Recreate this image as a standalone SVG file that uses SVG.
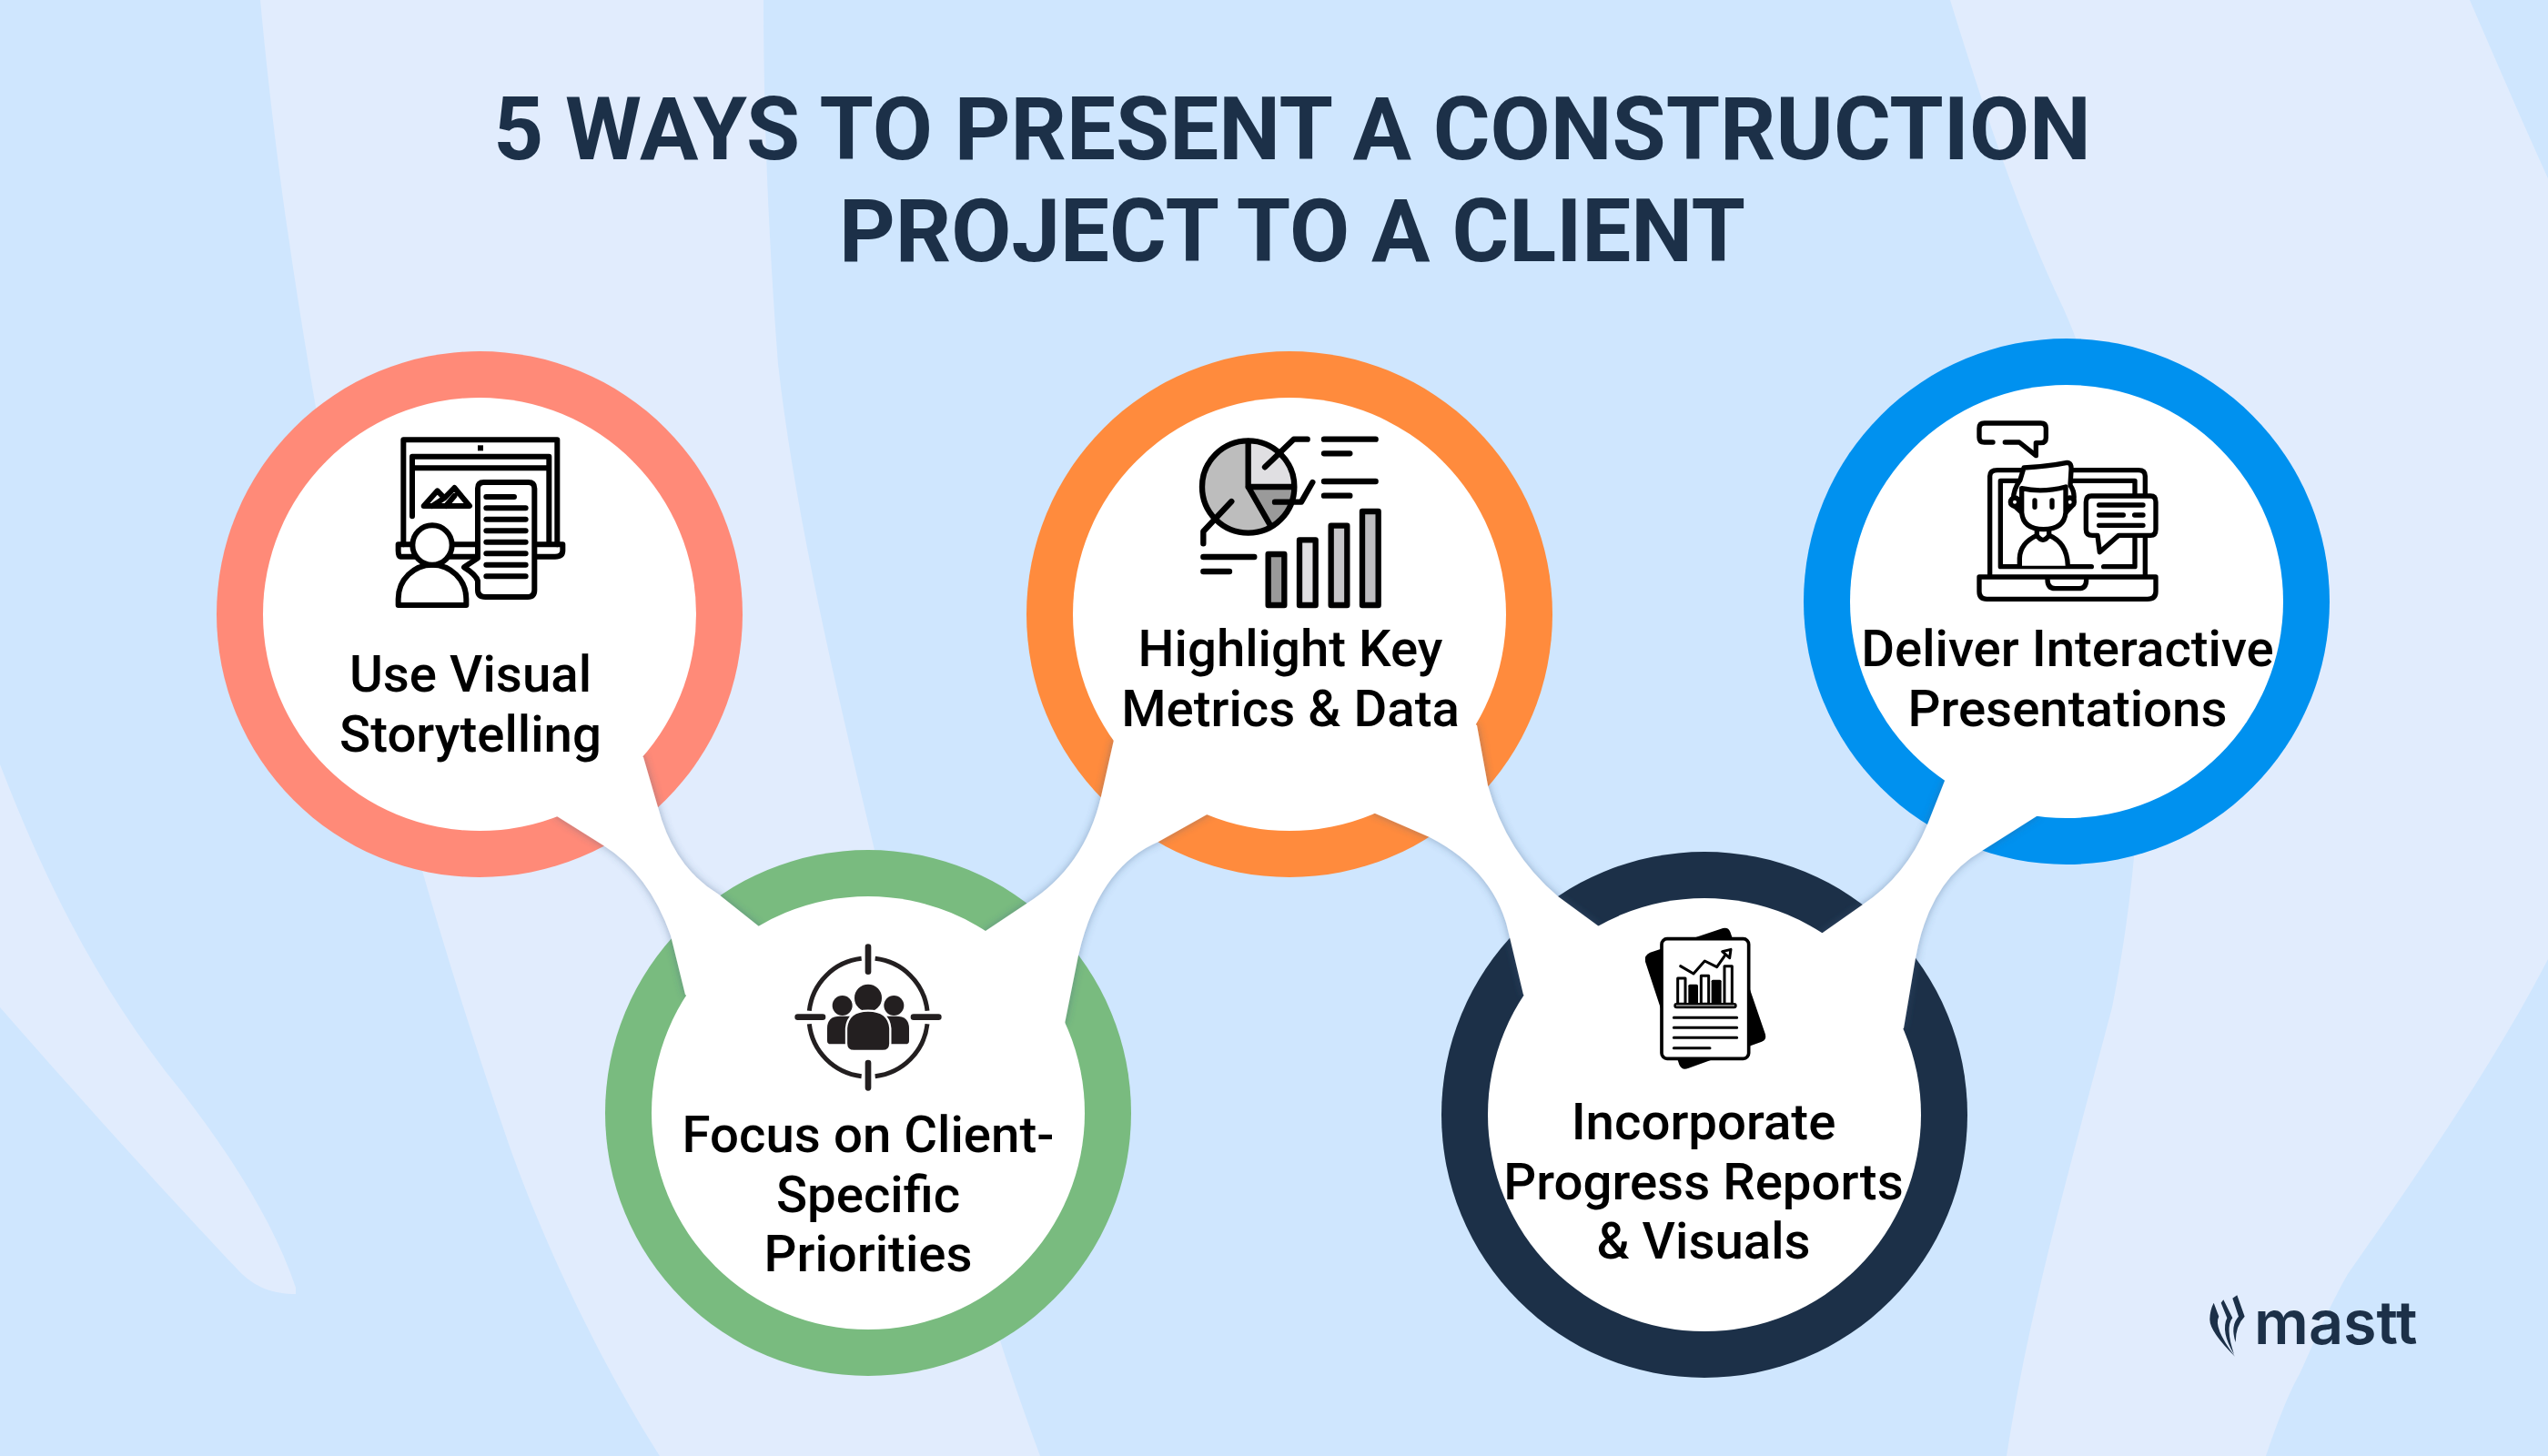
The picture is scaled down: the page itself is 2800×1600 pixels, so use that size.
<svg xmlns="http://www.w3.org/2000/svg" width="2800" height="1600" viewBox="0 0 2800 1600">
<defs>
<style>
.title{font:700 96px Roboto,"Liberation Sans",sans-serif;fill:#1c3048;text-anchor:middle}
.lab{font:500 56.4px Roboto,"Liberation Sans",sans-serif;fill:#000;text-anchor:middle}
.disc{fill:#fff}
.s{fill:none;stroke:#000;stroke-linecap:round;stroke-linejoin:round}
.w{fill:#fff;stroke:#000;stroke-linejoin:round;stroke-linecap:round}
.k{fill:#231f20}
</style>
<filter id="sh" x="-20%" y="-20%" width="140%" height="140%"><feDropShadow dx="0" dy="0" stdDeviation="5" flood-color="#3b5a80" flood-opacity="0.45"/></filter>
</defs>
<g id="background">
<rect width="2800" height="1600" fill="#cfe6fe"/>
<g fill="#e1ecfd">
<path d="M286,0 C300,150 320,300 360,520 C400,740 470,1000 560,1260 C610,1400 680,1530 725,1600 L1143,1600 C1080,1430 1040,1280 1000,1100 C950,880 880,620 855,400 C845,270 839,130 839,0Z"/>
<path d="M0,840 C50,970 110,1090 200,1200 C250,1265 300,1340 325,1415 L325,1422 C300,1422 280,1415 262,1396 C190,1320 90,1210 0,1107Z"/>
<path d="M2143,0 C2180,120 2220,240 2268,340 C2330,480 2390,760 2321,1107 C2270,1300 2230,1440 2205,1600 L2490,1600 C2500,1570 2515,1530 2527,1510 C2545,1470 2560,1435 2580,1400 C2650,1300 2740,1170 2800,1054 L2800,196 C2770,130 2740,60 2714,0Z"/>
</g>
</g>
<g id="title">
<text class="title" x="1420" y="175">5 WAYS TO PRESENT A CONSTRUCTION</text>
<text class="title" x="1420" y="287">PROJECT TO A CLIENT</text>
</g>
<g id="rings">
<circle cx="527" cy="675" r="289" fill="#ff8a78"/>
<circle cx="954" cy="1223" r="289" fill="#79bb7f"/>
<circle cx="1417" cy="675" r="289" fill="#ff8b3d"/>
<circle cx="1873" cy="1225" r="289" fill="#1c3048"/>
<circle cx="2271" cy="661" r="289" fill="#0091ef"/>
</g>
<g id="connectors" fill="#fff" filter="url(#sh)">
<path d="M707,832 L723,887 Q740,953 790,983 L834,1018 L954,1223 L753,1093 L737,1028 Q713,960 663,929 L612,897 L527,675Z"/>
<path d="M1224,813 L1210,875 Q1192,953 1128,993 L1083,1023 L954,1223 L1170,1125 L1185,1050 Q1207,953 1273,925 L1330,893 L1417,675Z"/>
<path d="M1623,797 L1635,863 Q1655,937 1712,985 L1757,1018 L1873,1225 L1674,1093 L1659,1030 Q1645,958 1571,920 L1509,893 L1417,675Z"/>
<path d="M2137,858 L2118,906 Q2095,962 2047,994 L2000,1027 L1873,1225 L2092,1130 L2105,1053 Q2120,968 2178,935 L2238,897 L2271,661Z"/>
</g>
<g id="node-visual-storytelling">
<circle class="disc" cx="527" cy="675" r="238"/>
<g transform="translate(400,450) scale(0.33333)" stroke-width="18">
<path class="s" stroke-linecap="butt" d="M130,445 V100 H637 V445"/>
<path class="s" stroke-linecap="butt" d="M159,352 V155 H610 V440 M160,193 H610"/>
<rect x="375" y="118" width="18" height="18"/>
<path class="s" d="M113,445 H655 V465 Q655,485 630,485 H120 Q113,485 113,465Z"/>
<path class="s" d="M197,318 L242,268 L265,292 L298,258 L348,318Z M225,318 L265,292 M270,318 L298,285"/>
<path class="w" d="M375,260 Q375,240 395,240 H542 Q562,240 562,260 V595 Q562,618 540,618 H400 Q375,618 375,595 V565 Q370,545 330,520 L375,490Z"/>
<path class="s" stroke-linecap="butt" d="M403,288 H495 M403,325 H533 M403,362 H533 M403,400 H533 M403,437 H533 M403,475 H533 M403,512 H533 M403,550 H533"/>
<path class="w" d="M113,645 V625 C113,560 165,512 225,512 C285,512 337,560 337,625 V645Z"/>
<circle class="w" cx="225" cy="447" r="65"/>
</g>
<text class="lab" x="517" y="760">Use Visual</text>
<text class="lab" x="517" y="826">Storytelling</text>
</g>
<g id="node-client-priorities">
<circle class="disc" cx="954" cy="1223" r="238"/>
<g transform="translate(840,1020) scale(0.33333)">
<path class="s" stroke-width="15" style="stroke:#231f20;stroke-linecap:butt" d="M365,100 A195,195 0 0 1 537,272 M537,316 A195,195 0 0 1 365,488 M320,488 A195,195 0 0 1 148,316 M148,272 A195,195 0 0 1 320,100"/>
<path class="s" style="stroke:#231f20" stroke-width="20" d="M342,62 V143 M342,444 V526 M110,293 H192 M492,293 H574"/>
<circle class="k" cx="257" cy="255" r="33"/><circle class="k" cx="427" cy="255" r="33"/>
<path class="k" d="M207,330 Q207,290 250,290 H434 Q477,290 477,330 V372 Q477,382 465,382 H219 Q207,382 207,372Z"/>
<circle class="k" cx="342" cy="230" r="45"/>
<path class="k" stroke="#fff" stroke-width="7" d="M270,330 Q275,272 342,272 Q410,272 415,330 V380 Q415,405 390,405 H295 Q270,405 270,380Z"/>
</g>
<text class="lab" x="954" y="1266">Focus on Client-</text>
<text class="lab" x="954" y="1332">Specific</text>
<text class="lab" x="954" y="1397">Priorities</text>
</g>
<g id="node-key-metrics">
<circle class="disc" cx="1417" cy="675" r="238"/>
<g transform="translate(1290,460) scale(0.33333)" stroke-width="19">
<circle cx="245" cy="225" r="152" fill="#bdbdbd"/>
<path fill="#e0dfe2" d="M245,225 V73 A152,152 0 0 1 397,225Z"/>
<path fill="#9a9a9a" d="M245,225 H397 A152,152 0 0 1 318,358Z"/>
<circle class="s" cx="245" cy="225" r="152"/>
<path class="s" d="M245,75 V225 H395 M245,225 L318,352 M300,160 L395,68 H440 M190,273 L97,372 V412 M333,275 H420 L457,210 M495,68 H665 M495,115 H580 M495,207 H665 M495,254 H580 M97,456 H265 M97,504 H183"/>
<rect class="w" x="311" y="447" width="53" height="168" style="fill:#999"/>
<rect class="w" x="414" y="400" width="53" height="215" style="fill:#dfdee1"/>
<rect class="w" x="518" y="353" width="53" height="262" style="fill:#c6c5c8"/>
<rect class="w" x="621" y="306" width="53" height="309" style="fill:#bdbcbf"/>
</g>
<text class="lab" x="1418" y="732">Highlight Key</text>
<text class="lab" x="1418" y="798">Metrics &amp; Data</text>
</g>
<g id="node-progress-reports">
<circle class="disc" cx="1873" cy="1225" r="238"/>
<g transform="translate(1780,1000) scale(0.33333)">
<path d="M100,140 L340,60 Q358,56 364,72 L480,410 Q484,428 468,434 L225,522 Q205,530 196,510 L84,170 Q80,148 100,140Z"/>
<rect class="w" x="138" y="95" width="287" height="395" rx="18" stroke-width="11"/>
<path class="s" stroke-width="9" d="M200,185 L243,210 L280,168 L320,188 L350,145"/>
<path class="w" stroke-width="9" d="M338,137 L366,130 L362,158Z"/>
<rect class="w" x="191" y="225" width="25" height="85" stroke-width="9"/>
<rect x="226" y="245" width="32" height="65" rx="5"/>
<rect class="w" x="268" y="217" width="25" height="93" stroke-width="9"/>
<rect x="302" y="230" width="33" height="80" rx="5"/>
<rect class="w" x="345" y="185" width="25" height="125" stroke-width="9"/>
<rect x="178" y="306" width="208" height="19" rx="9"/>
<rect x="186" y="312" width="192" height="6" fill="#777"/>
<path class="s" stroke-width="9" d="M178,355 H386 M178,388 H386 M178,421 H386 M178,455 H297"/>
</g>
<text class="lab" x="1872" y="1252">Incorporate</text>
<text class="lab" x="1872" y="1318">Progress Reports</text>
<text class="lab" x="1872" y="1383">&amp; Visuals</text>
</g>
<g id="node-interactive-presentations">
<circle class="disc" cx="2271" cy="661" r="238"/>
<g transform="translate(2140,440) scale(0.33333)" stroke-width="16">
<path class="s" d="M150,138 H122 Q105,138 105,122 V92 Q105,75 122,75 H308 Q325,75 325,92 V122 Q325,140 308,140 H292 V182 L237,138 H190"/>
<path class="s" d="M140,575 V250 Q140,230 165,230 H630 Q652,230 652,250 V310 M652,450 V575"/>
<path class="s" d="M475,548 H175 V265 H618 V315 M618,450 V548 H515"/>
<path class="s" d="M105,582 H687 V630 Q687,655 660,655 H130 Q105,655 105,630Z M330,590 Q330,620 355,620 H435 Q458,620 458,590"/>
<path class="w" d="M238,545 V520 Q240,470 295,445 Q315,475 335,445 Q395,470 397,545"/>
<path class="w" d="M218,345 Q212,300 240,262 L252,222 Q330,218 395,205 Q410,205 408,230 L405,280 Q424,305 414,345 L390,370 H245Z"/>
<circle class="w" cx="222" cy="335" r="14"/>
<circle class="w" cx="404" cy="335" r="14"/>
<path class="w" d="M245,290 Q315,305 390,285 V370 Q385,425 317,425 Q250,425 245,370Z"/>
<path class="s" d="M288,330 V352 M345,330 V352 M295,425 V448 M335,425 V448"/>
<path class="w" d="M475,315 H670 Q687,315 687,335 V425 Q687,445 670,445 H565 L502,500 L495,445 H478 Q457,445 457,425 V335 Q457,315 475,315Z"/>
<path class="s" d="M500,345 H645 M500,378 H580 M617,378 H645 M500,412 H645"/>
</g>
<text class="lab" x="2272" y="732">Deliver Interactive</text>
<text class="lab" x="2272" y="798">Presentations</text>
</g>
<g id="logo">
<g transform="translate(2410,1400) scale(0.33333)" fill="#1c3048">
<path d="M145,70 L170,140 Q140,170 140,225 Q122,170 150,140 L130,80Z"/>
<path d="M100,85 L130,145 Q105,175 135,265 Q90,190 112,145 L92,95Z"/>
<path d="M68,95 L85,140 Q65,175 138,272 Q55,190 55,150 Q55,120 68,95Z"/>
</g>
<text x="2477" y="1477" style="font:600 66.5px Inter,'Liberation Sans',sans-serif;fill:#1c3048">mastt</text>
</g>
</svg>
